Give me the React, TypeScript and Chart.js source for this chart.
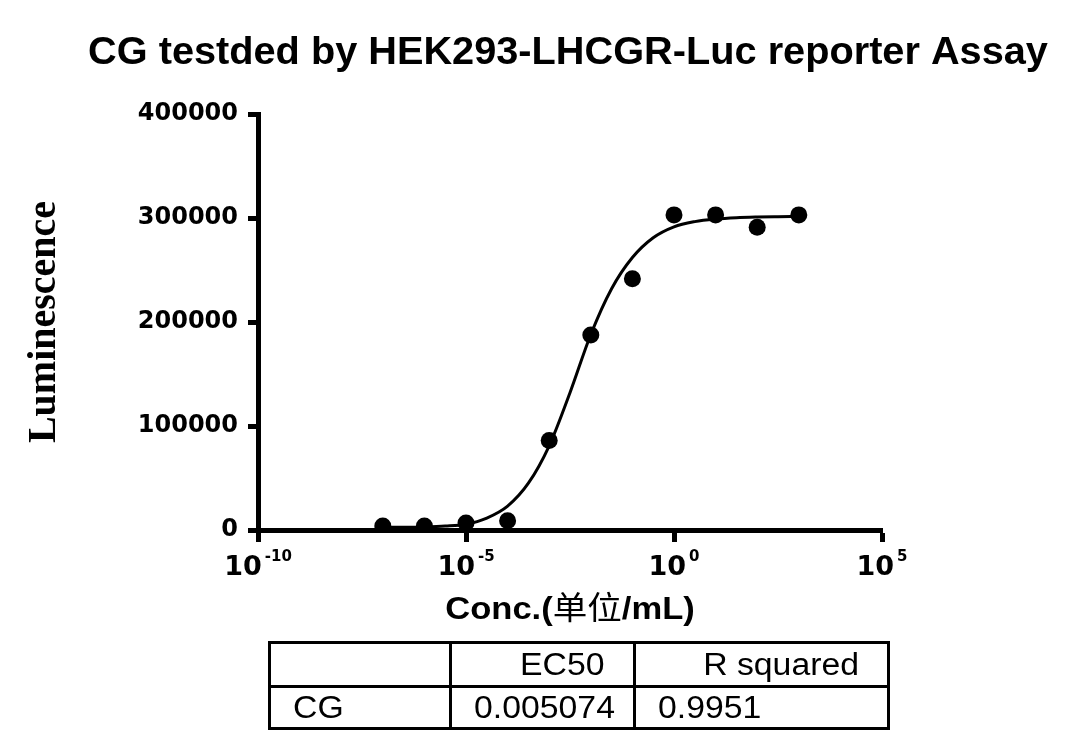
import React, { useEffect, useRef } from "react";
import { Chart, registerables } from "chart.js";

Chart.register(...registerables);

const TITLE = "CG testded by HEK293-LHCGR-Luc reporter Assay";
const X_TITLE_PARTS = ["Conc.(", "单位", "/mL)"];
const X_TITLE_BOLD = [true, false, true];
const Y_TITLE = "Luminescence";

// measured points (concentration, luminescence)
const POINT_X = [1e-7, 1e-6, 1e-5, 1e-4, 1e-3, 1e-2, 1e-1, 1, 10, 100, 1000];
const POINT_Y = [3800, 3800, 6700, 9000, 86000, 187500, 241500, 303000, 303000, 291000, 303000];

// fitted curve
const CURVE_X = [
  1e-7, 3.16e-7, 1e-6, 3.16e-6, 1e-5, 3.16e-5, 1e-4, 3.16e-4, 1e-3, 3.16e-3, 1e-2,
  3.16e-2, 1e-1, 3.16e-1, 1, 3.16, 10, 31.6, 100, 316, 1000,
];
const CURVE_Y = [
  2500, 2700, 3000, 3800, 5600, 11500, 23000, 45000, 81000, 132000, 188000,
  232000, 262000, 281000, 291500, 296500, 299000, 300300, 300900, 301200, 301400,
];

const X_TICKS = [1e-10, 1e-5, 1, 1e5];
const X_TICK_BASE = ["10", "10", "10", "10"];
const X_TICK_EXP = ["-10", "-5", "0", "5"];

const Y_MIN = 0;
const Y_MAX = 400000;
const Y_STEP = 100000;

const TABLE_HEAD = ["", "EC50", "R squared"];
const TABLE_ROW = ["CG", "0.005074", "0.9951"];

const textPlugin = {
  id: "extraText",
  afterDraw(chart: any) {
    const { ctx, chartArea } = chart;
    const scale = chart.scales.x;
    const cx = (chartArea.left + chartArea.right) / 2;
    ctx.save();
    ctx.fillStyle = "#000";
    ctx.textBaseline = "alphabetic";

    // chart title
    ctx.save();
    ctx.font = 'bold 38px "Liberation Sans", Arial, sans-serif';
    ctx.textAlign = "center";
    ctx.translate(cx - 2, chartArea.top - 50);
    ctx.scale(1.045, 1);
    ctx.fillText(TITLE, 0, 0);
    ctx.restore();

    // x tick labels with superscript exponents
    ctx.textAlign = "left";
    const baseFont = 'bold 27px "DejaVu Sans"';
    const expFont = 'bold 15px "DejaVu Sans"';
    X_TICKS.forEach((v, i) => {
      const px = scale.getPixelForValue(v);
      ctx.font = baseFont;
      const wb = ctx.measureText(X_TICK_BASE[i]).width;
      ctx.font = expFont;
      const we = ctx.measureText(X_TICK_EXP[i]).width;
      const gap = 3;
      const x0 = px - (wb + gap + we) / 2;
      ctx.font = baseFont;
      ctx.fillText(X_TICK_BASE[i], x0, scale.top + 45);
      ctx.font = expFont;
      ctx.fillText(X_TICK_EXP[i], x0 + wb + gap, scale.top + 31);
    });

    // x axis title (bold latin, regular CJK)
    const fonts = X_TITLE_BOLD.map((b) =>
      b
        ? 'bold 32px "Liberation Sans", Arial, sans-serif'
        : '32px "Noto Sans CJK SC", sans-serif'
    );
    const sx = 1.08;
    const widths = X_TITLE_PARTS.map((t, i) => {
      ctx.font = fonts[i];
      return ctx.measureText(t).width;
    });
    const total = widths.reduce((a, b) => a + b, 0) * sx;
    ctx.save();
    ctx.translate(cx - total / 2, scale.top + 89);
    ctx.scale(sx, 1);
    let x = 0;
    X_TITLE_PARTS.forEach((t, i) => {
      ctx.font = fonts[i];
      ctx.fillText(t, x, 0);
      x += widths[i];
    });
    ctx.restore();

    ctx.restore();
  },
};

export default function App() {
  const canvasRef = useRef<HTMLCanvasElement | null>(null);

  useEffect(() => {
    const canvas = canvasRef.current;
    if (!canvas) return;
    const points = POINT_X.map((x, i) => ({ x, y: POINT_Y[i] }));
    const curve = CURVE_X.map((x, i) => ({ x, y: CURVE_Y[i] }));
    const chart = new Chart(canvas, {
      type: "scatter",
      data: {
        datasets: [
          {
            label: "fit",
            data: curve,
            showLine: true,
            borderColor: "#000",
            borderWidth: 3,
            pointRadius: 0,
            cubicInterpolationMode: "monotone",
            fill: false,
          } as any,
          {
            label: "CG",
            data: points,
            pointRadius: 8.5,
            pointBackgroundColor: "#000",
            pointBorderColor: "#000",
            pointBorderWidth: 0,
            showLine: false,
          },
        ],
      },
      options: {
        responsive: false,
        animation: false,
        layout: { padding: { left: 0, right: 198, top: 114, bottom: 0 } },
        plugins: {
          legend: { display: false },
          tooltip: { enabled: false },
          title: { display: false },
        },
        scales: {
          x: {
            type: "logarithmic",
            position: "bottom",
            min: 1e-10,
            max: 1e5,
            afterBuildTicks: (scale: any) => {
              scale.ticks = X_TICKS.map((v) => ({ value: v }));
            },
            afterFit: (scale: any) => {
              scale.height = 220;
            },
            ticks: { display: false },
            grid: {
              drawOnChartArea: false,
              drawTicks: true,
              tickLength: 12,
              tickWidth: 5,
              tickColor: "#000",
            },
            border: { display: true, width: 5, color: "#000" },
            title: { display: false },
          },
          y: {
            type: "linear",
            min: Y_MIN,
            max: Y_MAX,
            afterFit: (scale: any) => {
              scale.width = 258;
            },
            ticks: {
              stepSize: Y_STEP,
              color: "#000",
              padding: 10,
              font: { family: '"DejaVu Sans"', size: 24, weight: "bold" },
              callback: (v: any) => String(v),
            },
            grid: {
              drawOnChartArea: false,
              drawTicks: true,
              tickLength: 10,
              tickWidth: 5,
              tickColor: "#000",
            },
            border: { display: true, width: 5, color: "#000" },
            title: {
              display: true,
              text: Y_TITLE,
              color: "#000",
              font: {
                family: '"Liberation Serif", "Times New Roman", serif',
                size: 40,
                weight: "bold",
              },
              padding: { top: 21, bottom: 0 },
            },
          },
        },
      },
      plugins: [textPlugin],
    });
    return () => chart.destroy();
  }, []);

  const cellBase: React.CSSProperties = {
    border: "3px solid #000",
    padding: 0,
    fontFamily: '"Liberation Sans", Arial, sans-serif',
    fontSize: 31,
    color: "#000",
    lineHeight: "1",
    boxSizing: "border-box",
    whiteSpace: "nowrap",
  };
  const colW = [181, 184, 254];
  const spanStyle = (origin: string): React.CSSProperties => ({
    display: "inline-block",
    transform: "scaleX(1.09)",
    transformOrigin: origin,
  });

  return (
    <div
      style={{
        position: "fixed",
        left: 0,
        top: 0,
        width: 1080,
        height: 750,
        background: "#fff",
        overflow: "hidden",
      }}
    >
      <canvas ref={canvasRef} width={1080} height={750} style={{ display: "block" }} />
      <table
        style={{
          position: "absolute",
          left: 268,
          top: 641,
          borderCollapse: "collapse",
          tableLayout: "fixed",
          width: 619,
        }}
      >
        <tbody>
          <tr style={{ height: 44 }}>
            {TABLE_HEAD.map((t, i) => (
              <td
                key={i}
                style={{ ...cellBase, width: colW[i], textAlign: "right", paddingRight: 28 }}
              >
                <span style={spanStyle("right center")}>{t}</span>
              </td>
            ))}
          </tr>
          <tr style={{ height: 42 }}>
            {TABLE_ROW.map((t, i) => (
              <td
                key={i}
                style={{ ...cellBase, width: colW[i], textAlign: "left", paddingLeft: 22 }}
              >
                <span style={spanStyle("left center")}>{t}</span>
              </td>
            ))}
          </tr>
        </tbody>
      </table>
    </div>
  );
}
